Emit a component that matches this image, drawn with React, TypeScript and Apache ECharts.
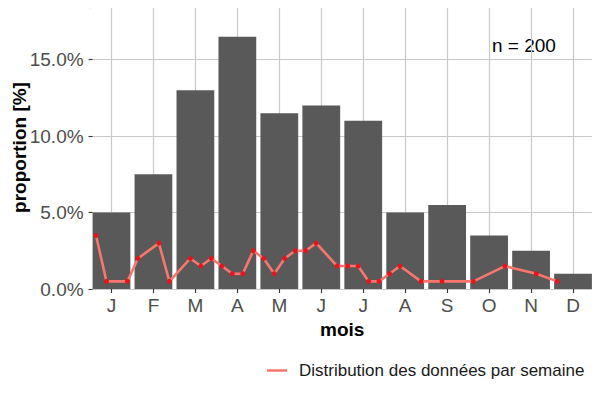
import React, { useEffect, useRef } from "react";
import * as echarts from "echarts";

const monthLabels = ["J", "F", "M", "A", "M", "J", "J", "A", "S", "O", "N", "D"];
const monthIndex = [1, 2, 3, 4, 5, 6, 7, 8, 9, 10, 11, 12];
const monthShare = [5.0, 7.5, 13.0, 16.5, 11.5, 12.0, 11.0, 5.0, 5.5, 3.5, 2.5, 1.0];

const weekIndex = [1, 2, 4, 5, 7, 8, 10, 11, 12, 13, 14, 15, 16, 17, 18, 19, 20, 21, 22, 24, 25, 26, 27, 28, 29, 30, 32, 34, 37, 40, 43, 45];
const weekShare = [3.5, 0.5, 0.5, 2.0, 3.0, 0.5, 2.0, 1.5, 2.0, 1.5, 1.0, 1.0, 2.5, 2.0, 1.0, 2.0, 2.5, 2.5, 3.0, 1.5, 1.5, 1.5, 0.5, 0.5, 1.0, 1.5, 0.5, 0.5, 0.5, 1.5, 1.0, 0.5];

const yTicks = [0, 5, 10, 15];
const lineName = "Distribution des données par semaine";
const yTitle = "proportion [%]";
const noteText = "n = 200";

const FONT = "'Liberation Sans', Arial, Helvetica, sans-serif";

export default function App() {
  const ref = useRef<HTMLDivElement>(null);
  useEffect(() => {
    if (!ref.current) return;
    const chart = echarts.init(ref.current, null, { renderer: "svg" });
    const gridLeft = 92.6;
    const gridRight = 8.1;
    const plotW = 600 - gridLeft - gridRight;
    const pxPerMonth = plotW / 11.9;
    chart.setOption({
      animation: false,
      textStyle: { fontFamily: FONT },
      grid: {
        left: gridLeft,
        right: gridRight,
        top: 7,
        bottom: 111,
        containLabel: false,
        outerBoundsMode: "none",
      },
      xAxis: [
        {
          type: "value",
          min: 0.55,
          max: 12.45,
          axisLine: { show: false },
          axisTick: {
            show: true,
            customValues: monthIndex,
            length: 4,
            lineStyle: { color: "#333333", width: 1.1 },
          },
          axisLabel: {
            customValues: monthIndex,
            formatter: (v: number) => monthLabels[Math.round(v) - 1] ?? "",
            fontSize: 19,
            color: "#4d4d4d",
            margin: 7,
            fontFamily: FONT,
          },
          splitLine: { show: true, lineStyle: { color: "#c9c9c9", width: 1.2 } },
          name: "mois",
          nameLocation: "middle",
          nameGap: 26,
          nameTextStyle: { fontSize: 19, fontWeight: "bold", color: "#000000", fontFamily: FONT },
        },
        {
          type: "value",
          min: 0.676,
          max: 48.3,
          show: false,
          splitLine: { show: false },
        },
      ],
      yAxis: {
        type: "value",
        min: 0,
        max: 18.45,
        interval: 5,
        axisLine: { show: false },
        axisTick: { show: true, length: 4, lineStyle: { color: "#333333", width: 1.1 } },
        axisLabel: {
          formatter: (v: number) => (yTicks.includes(v) ? v.toFixed(1) + "%" : ""),
          fontSize: 19,
          color: "#4d4d4d",
          margin: 9,
          fontFamily: FONT,
        },
        splitLine: { show: true, lineStyle: { color: "#c9c9c9", width: 1.2 } },
      },
      legend: {
        left: 262,
        top: 357,
        icon: "rect",
        itemWidth: 20,
        itemHeight: 2.5,
        data: [{ name: lineName, itemStyle: { color: "#F8766D" } }],
        textStyle: { fontSize: 17, color: "#1a1a1a", fontFamily: FONT, padding: [0, 0, 0, 7] },
      },
      series: [
        {
          type: "bar",
          xAxisIndex: 0,
          data: monthIndex.map((m, i) => [m, monthShare[i]]),
          barWidth: pxPerMonth * 0.9,
          itemStyle: { color: "#595959" },
          silent: true,
          z: 2,
        },
        {
          type: "line",
          name: lineName,
          xAxisIndex: 1,
          data: weekIndex.map((w, i) => [w, weekShare[i]]),
          lineStyle: { color: "#F8766D", width: 2.6 },
          itemStyle: { color: "#e3151d" },
          symbol: "circle",
          symbolSize: 5,
          showSymbol: true,
          z: 3,
        },
      ],
      graphic: [
        {
          type: "text",
          x: 19,
          y: 147.5,
          rotation: Math.PI / 2,
          style: {
            text: yTitle,
            fontSize: 19,
            fontWeight: "bold",
            fill: "#000000",
            fontFamily: FONT,
            align: "center",
            verticalAlign: "middle",
          },
        },
        {
          type: "text",
          x: 492,
          y: 45,
          style: {
            text: noteText,
            fontSize: 19,
            fill: "#000000",
            fontFamily: FONT,
            verticalAlign: "middle",
          },
        },
      ],
    });
    return () => chart.dispose();
  }, []);
  return <div ref={ref} style={{ width: 600, height: 400, margin: -8 }} />;
}
